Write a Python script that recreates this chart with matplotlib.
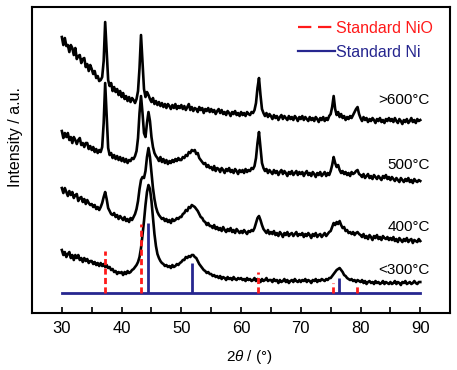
import numpy as np
import matplotlib
matplotlib.use("Agg")
import matplotlib.pyplot as plt
from matplotlib.lines import Line2D

plt.rcParams['font.family'] = ['Liberation Sans', 'DejaVu Sans']
plt.rcParams['mathtext.fontset'] = 'custom'
plt.rcParams['mathtext.rm'] = 'Liberation Sans'
plt.rcParams['mathtext.it'] = 'Liberation Sans:italic'

# 2theta grid of the patterns (degrees, 0.25 step, one row below = 5 degrees)
two_theta = np.arange(30, 90.001, 0.25)

# intensities (a.u., curves already offset as in the figure)
above_600 = [276, 268, 275, 267, 268, 261, 268, 265, 258, 265, 254, 257, 258, 250, 254, 255, 246, 249, 242, 248,
             244, 239, 242, 235, 237, 232, 233, 236, 252, 291, 262, 233, 227, 230, 222, 226, 221, 224, 218, 222,
             216, 220, 214, 217, 212, 216, 211, 215, 213, 210, 214, 222, 245, 278, 250, 224, 216, 221, 218, 214,
             211, 215, 209, 212, 208, 211, 207, 210, 206, 209, 205, 209, 207, 204, 208, 205, 209, 204, 207, 205,
             208, 204, 207, 203, 206, 209, 203, 206, 202, 205, 204, 201, 206, 203, 205, 200, 204, 202, 205, 201,
             204, 201, 203, 199, 202, 204, 200, 203, 199, 201, 198, 202, 200, 197, 201, 199, 202, 198, 200, 197,
             201, 198, 200, 197, 201, 199, 198, 201, 200, 203, 210, 225, 235, 218, 204, 200, 197, 200, 196, 199,
             197, 194, 198, 195, 197, 193, 196, 198, 194, 197, 195, 193, 197, 194, 196, 193, 197, 195, 192, 196,
             194, 197, 193, 196, 194, 192, 196, 193, 195, 192, 196, 194, 191, 195, 193, 196, 192, 195, 193, 197,
             199, 206, 217, 204, 198, 201, 196, 199, 195, 197, 193, 196, 194, 197, 195, 198, 201, 204, 206, 199,
             195, 192, 196, 193, 195, 191, 194, 192, 195, 193, 190, 194, 192, 195, 191, 193, 190, 194, 192, 195,
             192, 194, 191, 195, 192, 190, 194, 192, 189, 193, 191, 194, 190, 192, 195, 191, 193, 190, 194, 192,
             193]
t_500 = [182, 175, 180, 176, 180, 173, 176, 170, 176, 173, 169, 173, 175, 168, 170, 166, 170, 170, 164, 167,
         163, 166, 161, 164, 160, 163, 161, 166, 190, 230, 198, 165, 158, 160, 155, 158, 154, 157, 153, 156,
         152, 155, 151, 154, 150, 153, 152, 155, 154, 157, 162, 175, 200, 217, 200, 180, 176, 190, 201, 192,
         176, 166, 160, 157, 155, 152, 156, 151, 154, 150, 153, 149, 152, 150, 153, 151, 154, 152, 155, 153,
         153, 156, 155, 158, 157, 161, 160, 163, 162, 163, 159, 160, 155, 153, 151, 149, 150, 146, 148, 145,
         146, 143, 147, 142, 145, 144, 141, 145, 143, 140, 144, 142, 145, 141, 143, 140, 144, 142, 139, 143,
         141, 143, 140, 144, 141, 143, 142, 145, 144, 147, 155, 170, 181, 165, 150, 145, 142, 144, 140, 143,
         141, 139, 143, 140, 142, 138, 141, 143, 139, 142, 140, 137, 141, 139, 142, 138, 140, 142, 138, 141,
         139, 141, 137, 140, 142, 138, 140, 137, 141, 139, 136, 140, 138, 141, 137, 139, 141, 137, 140, 138,
         142, 148, 156, 150, 146, 148, 143, 140, 142, 139, 141, 138, 140, 137, 141, 139, 140, 142, 143, 139,
         138, 136, 139, 135, 137, 139, 135, 137, 134, 138, 136, 134, 137, 135, 133, 137, 135, 138, 134, 136,
         133, 136, 134, 132, 135, 133, 131, 135, 133, 131, 134, 132, 135, 131, 133, 130, 134, 132, 131, 133,
         132]
t_400 = [125, 120, 125, 121, 117, 122, 118, 121, 115, 118, 119, 112, 115, 116, 111, 114, 109, 113, 110, 108,
         109, 106, 108, 104, 106, 103, 106, 110, 116, 121, 114, 105, 102, 99, 98, 100, 96, 98, 94, 97,
         95, 93, 96, 92, 94, 91, 95, 93, 96, 99, 104, 112, 124, 133, 136, 135, 142, 156, 165, 156,
         140, 125, 114, 106, 101, 98, 96, 94, 95, 92, 94, 91, 93, 90, 94, 92, 93, 95, 94, 96,
         96, 99, 100, 103, 102, 106, 105, 108, 107, 106, 104, 102, 99, 96, 95, 92, 91, 88, 90, 87,
         87, 85, 88, 84, 86, 83, 85, 82, 86, 83, 81, 84, 82, 85, 81, 83, 80, 84, 82, 80,
         82, 80, 83, 81, 79, 82, 81, 83, 82, 85, 90, 95, 97, 93, 88, 84, 82, 80, 83, 79,
         81, 79, 82, 78, 80, 77, 81, 79, 76, 80, 78, 81, 77, 79, 80, 77, 79, 81, 77, 79,
         78, 80, 76, 79, 77, 80, 78, 75, 79, 77, 80, 76, 78, 79, 76, 78, 80, 77, 79, 81,
         82, 86, 90, 88, 91, 89, 92, 88, 85, 86, 82, 83, 80, 81, 79, 81, 78, 80, 81, 79,
         78, 76, 79, 75, 77, 74, 78, 76, 73, 77, 75, 78, 74, 76, 73, 77, 75, 74, 76, 73,
         75, 73, 76, 72, 74, 71, 75, 73, 71, 74, 72, 75, 71, 73, 74, 70, 73, 72, 71, 74,
         72]
below_300 = [63, 58, 61, 56, 59, 61, 55, 58, 53, 58, 55, 58, 53, 55, 51, 55, 52, 54, 50, 52,
             52, 49, 51, 48, 50, 47, 50, 47, 49, 46, 48, 45, 46, 43, 44, 41, 42, 39, 41, 40,
             41, 38, 41, 39, 42, 40, 41, 43, 44, 46, 48, 51, 56, 65, 78, 92, 108, 121, 128, 124,
             112, 95, 79, 67, 59, 55, 52, 50, 49, 47, 48, 46, 47, 45, 48, 46, 47, 49, 48, 50,
             51, 53, 53, 56, 55, 57, 56, 58, 58, 56, 55, 52, 49, 47, 45, 43, 42, 40, 41, 39,
             39, 37, 38, 36, 37, 35, 37, 34, 36, 35, 33, 36, 34, 35, 33, 36, 34, 33, 35, 34,
             35, 33, 34, 32, 35, 33, 34, 32, 33, 35, 32, 34, 33, 31, 34, 32, 33, 35, 32, 33,
             33, 31, 34, 32, 33, 30, 33, 31, 32, 34, 31, 33, 30, 32, 33, 31, 34, 32, 31, 33,
             31, 33, 32, 34, 31, 33, 32, 30, 33, 32, 34, 31, 33, 32, 34, 33, 32, 34, 33, 35,
             35, 37, 39, 41, 43, 44, 45, 43, 41, 38, 37, 35, 34, 33, 34, 32, 33, 31, 33, 32,
             31, 33, 30, 32, 29, 31, 32, 30, 31, 29, 32, 30, 31, 29, 30, 32, 29, 31, 30, 29,
             31, 29, 30, 32, 29, 31, 30, 28, 31, 30, 32, 29, 30, 31, 29, 30, 32, 30, 29, 31,
             31]

curves = [above_600, t_500, t_400, below_300]
curve_labels = ['>600°C', '500°C', '400°C', '<300°C']
label_y = [213, 148, 86, 43]

# standard reference patterns
std_base = 20
nio_pos = [37.25, 43.3, 62.9, 75.4, 79.4]
nio_top = [62, 89, 41, 30, 27]
ni_pos = [44.5, 51.8, 76.35]
ni_top = [90, 50, 35]

red = '#ff1a1a'
navy = '#26268f'

fig = plt.figure(figsize=(4.57, 3.7), dpi=100)
ax = fig.add_axes([0.070, 0.154, 0.915, 0.827])

for c in curves:
    ax.plot(two_theta, c, color='black', lw=1.9, zorder=2)

ax.plot([30, 90], [std_base, std_base], color=navy, lw=2, zorder=3)
ax.vlines(ni_pos, std_base, ni_top, color=navy, lw=2, zorder=3)
ax.vlines(nio_pos, std_base, nio_top, color=red, lw=2, linestyles=(0, (2.2, 1.2)), zorder=4)

for lab, y in zip(curve_labels, label_y):
    ax.text(91.6, y, lab, ha='right', va='center', fontsize=11)

handles = [Line2D([], [], color=red, lw=1.6, dashes=(6, 3)),
           Line2D([], [], color=navy, lw=1.6)]
leg = ax.legend(handles, ['Standard NiO', 'Standard Ni'], loc='upper right',
                frameon=False, fontsize=11.5, handlelength=2.3, handletextpad=0.1,
                labelspacing=0.55, bbox_to_anchor=(0.975, 0.975), borderaxespad=0)
for t, col in zip(leg.get_texts(), [red, navy]):
    t.set_color(col)

ax.set_xlim(25, 95)
ax.set_ylim(0, 306)
ax.set_xticks([30, 40, 50, 60, 70, 80, 90])
ax.set_xticks([35, 45, 55, 65, 75, 85], minor=True)
ax.set_yticks([])
ax.tick_params(axis='x', which='both', direction='in', length=4, width=1.2,
               labelsize=12, pad=6)
for s in ax.spines.values():
    s.set_linewidth(1.5)

ax.set_xlabel('2$\\it{\\theta}$ / (°)', fontsize=11)
ax.xaxis.set_label_coords(0.52, -0.115)
ax.set_ylabel('Intensity / a.u.', fontsize=11.5)
ax.yaxis.set_label_coords(-0.022, 0.575)

fig.savefig('out.png', dpi=100)
